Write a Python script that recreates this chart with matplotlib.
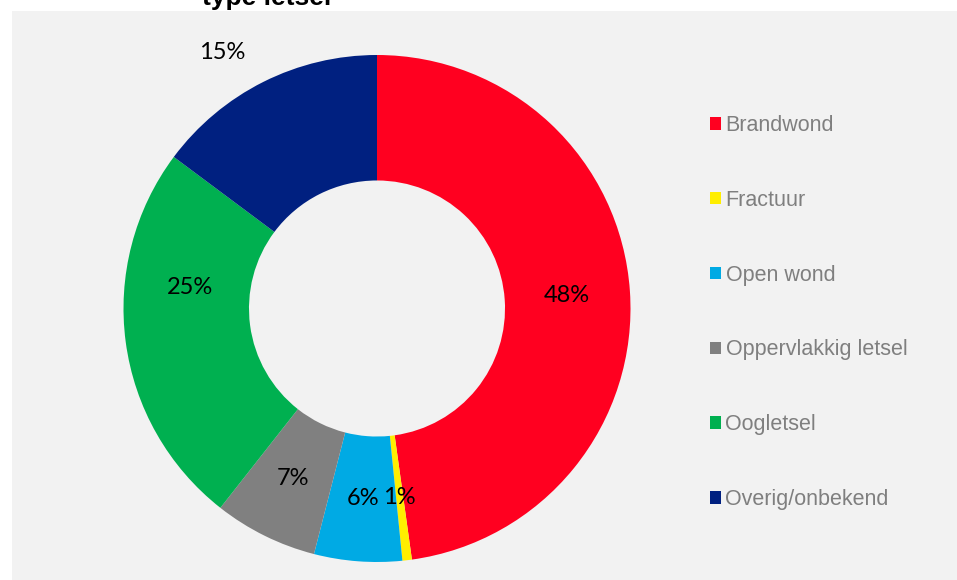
import matplotlib
matplotlib.use("Agg")
import matplotlib.pyplot as plt
from matplotlib.patches import Rectangle
import numpy as np

# data (share per type of injury, %)
categories = ['Brandwond', 'Fractuur', 'Open wond', 'Oppervlakkig letsel', 'Oogletsel', 'Overig/onbekend']
values = [47.8, 0.6, 5.6, 6.6, 24.6, 14.8]
colors = ['#FF0020', '#FFEE00', '#00AAE4', '#808080', '#00B050', '#002080']

W, H = 957, 580
fig = plt.figure(figsize=(W / 100, H / 100), dpi=100)
fig.patch.set_facecolor('white')

# light gray chart area (title sits partly above it)
fig.add_artist(Rectangle((12 / W, 0), 1 - 12 / W, (H - 11) / H, transform=fig.transFigure,
                         facecolor='#F2F2F2', edgecolor='none', zorder=-10))

cx, cy, R = 377, 308.5, 253.5
ax = fig.add_axes([(cx - R) / W, (H - cy - R) / H, 2 * R / W, 2 * R / H])
ax.set_facecolor('none')

wedges, _ = ax.pie(values, colors=colors, startangle=90, counterclock=False,
                   wedgeprops=dict(width=0.495, linewidth=0))
ax.set_xlim(-1, 1)
ax.set_ylim(-1, 1)
ax.set_aspect('equal')
ax.axis('off')

# data labels: middle of the ring, two were moved by hand in the original
manual = {4: (0.742, 276.3), 5: (1.18, 328.9)}  # (radius, degrees clockwise from top)
total = sum(values)
start = 0.0
for i, v in enumerate(values):
    mid = (start + v / 2) / total * 360
    start += v
    r, a = manual.get(i, (0.75, mid))
    x = r * np.sin(np.radians(a))
    y = r * np.cos(np.radians(a))
    ax.text(x, y, f"{v:.0f}%", ha='center', va='center', fontsize=17,
            family=['Lato', 'DejaVu Sans'], color='black', clip_on=False)

fig.text(267 / W, 1 - 4.5 / H, 'type letsel', ha='center', va='baseline',
         fontsize=19, fontweight='bold', family=['Liberation Sans', 'DejaVu Sans'])

leg = fig.legend(wedges, categories, loc='upper left', bbox_to_anchor=(710 / W, 1 - 115 / H),
                 frameon=False, handlelength=0.52, handleheight=0.52, handletextpad=0.2,
                 labelspacing=2.5, borderaxespad=0, borderpad=0,
                 prop={'family': ['Liberation Sans', 'DejaVu Sans'], 'size': 15.5})
for t in leg.get_texts():
    t.set_color('#7F7F7F')

fig.savefig('out.png', dpi=100, facecolor=fig.get_facecolor())
